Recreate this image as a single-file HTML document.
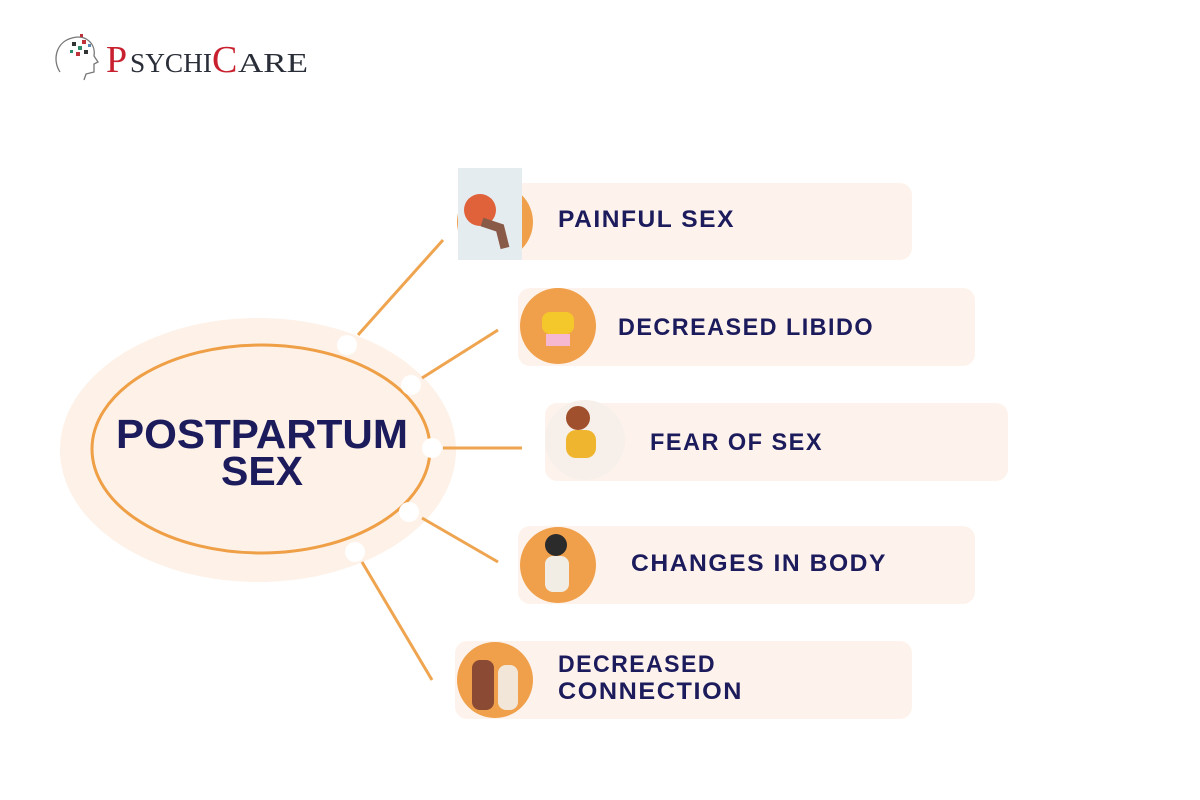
<!DOCTYPE html>
<html><head><meta charset="utf-8"><style>
body{margin:0;background:#fff}
svg{display:block}
</style></head><body>
<svg width="1200" height="800" viewBox="0 0 1200 800" xmlns="http://www.w3.org/2000/svg">
<rect width="1200" height="800" fill="#fff"/>
<!-- logo -->
<g>
<path d="M60 72 C52 60 56 42 72 38 C86 34 96 44 94 56 L98 62 L94 64 L94 72 L86 74 L84 80" fill="none" stroke="#777" stroke-width="1.3"/>
<rect x="72" y="42" width="4" height="4" fill="#333"/><rect x="78" y="46" width="4" height="4" fill="#2a8a6a"/>
<rect x="82" y="40" width="4" height="4" fill="#c0323a"/><rect x="76" y="52" width="4" height="4" fill="#c0323a"/>
<rect x="84" y="50" width="4" height="4" fill="#333"/><rect x="88" y="44" width="3" height="3" fill="#5a8ab0"/>
<rect x="70" y="50" width="3" height="3" fill="#2a8a6a"/><rect x="80" y="34" width="3" height="3" fill="#c0323a"/>
<text y="72" font-family="Liberation Serif, serif" fill="#2a2e38"><tspan x="106" font-size="38" fill="#c8202e">P</tspan><tspan x="130" font-size="27" textLength="82" lengthAdjust="spacingAndGlyphs">SYCHI</tspan><tspan x="212" font-size="38" fill="#c8202e">C</tspan><tspan x="238" font-size="27" textLength="70" lengthAdjust="spacingAndGlyphs">ARE</tspan></text>
</g>
<!-- center -->
<ellipse cx="258" cy="450" rx="198" ry="132" fill="#fdf1e8"/>
<ellipse cx="261" cy="449" rx="169" ry="104" fill="none" stroke="#ef9f45" stroke-width="3"/>
<g font-family="Liberation Sans, sans-serif" font-weight="bold" fill="#1c1b5c" text-anchor="middle" font-size="41">
<text x="262" y="448" textLength="292" lengthAdjust="spacingAndGlyphs">POSTPARTUM</text><text x="262" y="485">SEX</text></g>
<!-- lines -->
<g stroke="#efa450" stroke-width="3">
<line x1="358" y1="335" x2="443" y2="240"/><line x1="422" y1="378" x2="498" y2="330"/>
<line x1="443" y1="448" x2="522" y2="448"/><line x1="422" y1="518" x2="498" y2="562"/>
<line x1="362" y1="562" x2="432" y2="680"/></g>
<g fill="#fff"><circle cx="347" cy="345" r="10"/><circle cx="411" cy="385" r="10"/><circle cx="432" cy="448" r="10"/><circle cx="409" cy="512" r="10"/><circle cx="355" cy="552" r="10"/></g>
<!-- cards -->
<g fill="#fdf3ec">
<rect x="490" y="183" width="422" height="77" rx="12"/>
<rect x="518" y="288" width="457" height="78" rx="12"/>
<rect x="545" y="403" width="463" height="78" rx="12"/>
<rect x="518" y="526" width="457" height="78" rx="12"/>
<rect x="455" y="641" width="457" height="78" rx="12"/></g>
<!-- icons -->
<circle cx="495" cy="222" r="38" fill="#f0a04b"/>
<rect x="458" y="168" width="64" height="92" fill="#e4ecef"/>
<circle cx="480" cy="210" r="16" fill="#e0623a"/><path d="M482 222 L500 228 L505 248" stroke="#8a5a48" stroke-width="9" fill="none"/>
<circle cx="558" cy="326" r="38" fill="#f0a04b"/>
<rect x="542" y="312" width="32" height="22" rx="8" fill="#f4c82a"/><rect x="546" y="334" width="24" height="12" fill="#f6b8d0"/>
<circle cx="585" cy="440" r="40" fill="#f7f0ea"/>
<circle cx="578" cy="418" r="12" fill="#a0502c"/><rect x="566" y="430" width="30" height="28" rx="10" fill="#f0b52e"/>
<circle cx="558" cy="565" r="38" fill="#f0a04b"/>
<circle cx="556" cy="545" r="11" fill="#2b2b2b"/><rect x="545" y="556" width="24" height="36" rx="8" fill="#f1ede4"/>
<circle cx="495" cy="680" r="38" fill="#f0a04b"/>
<rect x="472" y="660" width="22" height="50" rx="8" fill="#8a4a34"/><rect x="498" y="665" width="20" height="45" rx="8" fill="#f2e6d8"/>
<!-- labels -->
<g font-family="Liberation Sans, sans-serif" font-weight="bold" fill="#1c1b5c" font-size="24" letter-spacing="1.5">
<text x="558" y="227" textLength="177" lengthAdjust="spacingAndGlyphs">PAINFUL SEX</text>
<text x="618" y="335" textLength="256" lengthAdjust="spacingAndGlyphs">DECREASED LIBIDO</text>
<text x="650" y="450" textLength="173" lengthAdjust="spacingAndGlyphs">FEAR OF SEX</text>
<text x="631" y="571" textLength="256" lengthAdjust="spacingAndGlyphs">CHANGES IN BODY</text>
<text x="558" y="672" textLength="158" lengthAdjust="spacingAndGlyphs">DECREASED</text>
<text x="558" y="699" textLength="185" lengthAdjust="spacingAndGlyphs">CONNECTION</text>
</g>
</svg>
</body></html>
